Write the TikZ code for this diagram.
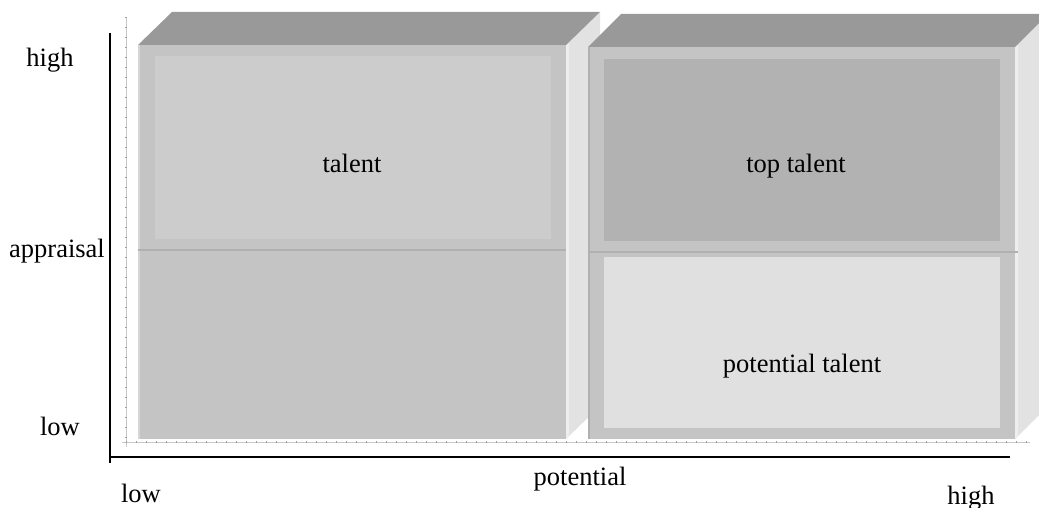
\documentclass[tikz,border=0pt]{standalone}
\usepackage{fontspec}
\setmainfont{Liberation Serif}
\definecolor{topc}{HTML}{999999}
\definecolor{sidec}{HTML}{E2E2E2}
\definecolor{frontc}{HTML}{C4C4C4}
\definecolor{talc}{HTML}{CCCCCC}
\definecolor{topt}{HTML}{B2B2B2}
\definecolor{pott}{HTML}{E0E0E0}
\definecolor{midl}{HTML}{B0B0B0}
\definecolor{gridc}{HTML}{C8C8C8}
\tikzset{
  lbl/.style={anchor=base, inner sep=0pt, font=\fontsize{26.5}{26.5}\selectfont},
  topface/.style={fill=topc, draw=none},
  sideface/.style={fill=sidec, draw=none},
  frontface/.style={fill=frontc, draw=none},
  midline/.style={draw=midl, line width=2pt},
  gridline/.style={draw=gridc, line width=0.8pt},
  gridtick/.style={draw=gridc!80!black, line width=2.5pt, dash pattern=on 0.6pt off 9.4pt},
  axisline/.style={draw=black, line width=1.8pt}
}
\begin{document}
\begin{tikzpicture}[x=1pt,y=-1pt]
\useasboundingbox (0,0) rectangle (1039,508);
% left box
\fill[sideface] (566,45) -- (600,12) -- (600,406) -- (566,439) -- cycle;
\fill[sidec!60!white] (566,45) -- (569,42) -- (569,436) -- (566,439) -- cycle;
\fill[topface] (138,45) -- (172,12) -- (600,12) -- (566,45) -- cycle;
\fill[frontface] (138,45) rectangle (566,439);
\fill[frontc!70!white] (138,45) rectangle (140,439);
\fill[talc] (155,56) rectangle (551,239);
\draw[midline] (138,250) -- (566,250);
% right box
\fill[sideface] (1015,47) -- (1048,14) -- (1048,406) -- (1015,439) -- cycle;
\fill[sidec!60!white] (1015,47) -- (1018,44) -- (1018,436) -- (1015,439) -- cycle;
\fill[topface] (588,47) -- (621,14) -- (1048,14) -- (1015,47) -- cycle;
\fill[frontface] (588,47) rectangle (1015,439);
\fill[frontc!90!black] (588,47) rectangle (590,439);
\fill[topt] (604,59) rectangle (1000,241);
\fill[pott] (604,257) rectangle (1000,428);
\draw[midline] (588,252) -- (1018,252);
% grid lines
\coordinate (gtop) at (126,17);
\coordinate (gcorner) at (126,442);
\coordinate (gright) at (1030,442);
\draw[gridline] (gtop) -- (126,447);
\draw[gridline] (122,442) -- (gright);
\draw[gridtick] (gtop) -- (gcorner);
\draw[gridtick] (gcorner) -- (gright);
% axes
\coordinate (ytop) at (110,33);
\coordinate (origin) at (110,457);
\coordinate (xend) at (1010,457);
\draw[axisline] (ytop) -- (110,463);
\draw[axisline, line width=1.5pt] (origin) -- (xend);
% labels
\node[lbl] (yhigh) at (50,67) {high};
\node[lbl] (yapp) at (57,257) {appraisal};
\node[lbl] (ylow) at (60,435) {low};
\node[lbl] (xlow) at (141,502) {low};
\node[lbl] (xpot) at (580,485) {potential};
\node[lbl] (xhigh) at (971,504) {high};
\node[lbl] (tal) at (352,172) {talent};
\node[lbl] (toptal) at (796,172) {top talent};
\node[lbl] (pottal) at (802,372) {potential talent};
\end{tikzpicture}
\end{document}
